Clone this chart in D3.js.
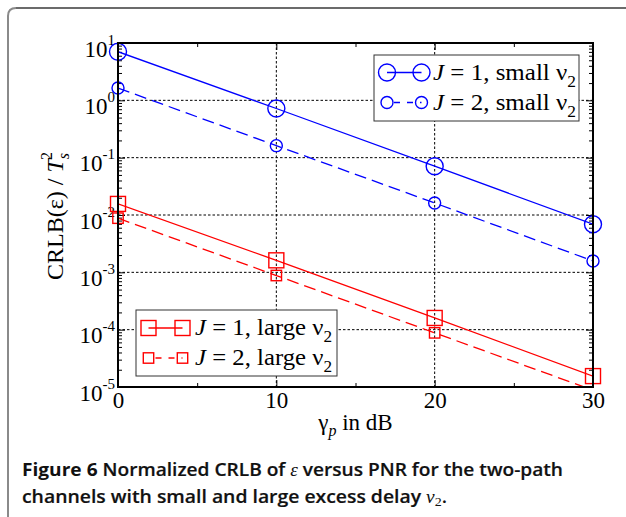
<!DOCTYPE html>
<html><head><meta charset="utf-8">
<script src="https://cdn.jsdelivr.net/npm/d3@7"></script>
<style>body{margin:0;background:#fff}svg{display:block}</style>
</head><body><svg id="c" width="626" height="517"></svg>
<script>
// ---- data ----
const xValues = [0, 10, 20, 30];
const blueJ1 = [7.05, 0.72, 0.071, 0.0069];
const blueJ2 = [1.64, 0.162, 0.0162, 0.00158];
const redJ1 = [0.0156, 0.00162, 0.000160, 0.0000155];
const redJ2 = [0.0088, 0.00088, 0.000088, 0.0000088];
const xTicksMajor = [0, 10, 20, 30];
const xTicksMinor = [5, 15, 25];
const yExponents = [1, 0, -1, -2, -3, -4, -5];
const legendJ = ["1", "2"];
const legendSize = ["small", "large"];

// ---- layout ----
const svg = d3.select("#c");
const L = 118, R = 593, T = 43, B = 387;
const x = d3.scaleLinear().domain([0, 30]).range([L, R]);
const y = d3.scaleLog().domain([1e-5, 10]).range([B, T]);
const serif = "'Liberation Serif','Times New Roman',serif";

// frame
svg.append("path").attr("d", `M8,520 L8,16 Q8,8 16,8`).attr("fill", "none").attr("stroke", "#8a8a8a").attr("stroke-width", 2);
svg.append("path").attr("d", `M16,8 L630,8`).attr("fill", "none").attr("stroke", "#3a3a3a").attr("stroke-width", 1.5);

// grid
const g = svg.append("g");
g.selectAll(".gx").data([10, 20]).join("line")
  .attr("x1", d => x(d)).attr("x2", d => x(d)).attr("y1", T).attr("y2", B)
  .attr("stroke", "#000").attr("stroke-width", 1).attr("stroke-dasharray", "2.5,2");
g.selectAll(".gy").data([1, 0.1, 0.01, 0.001, 0.0001]).join("line")
  .attr("y1", d => y(d)).attr("y2", d => y(d)).attr("x1", L).attr("x2", R)
  .attr("stroke", "#000").attr("stroke-width", 1).attr("stroke-dasharray", "2.5,2");

// minor y ticks
const yMinor = [];
for (let d = -5; d <= 0; d++) for (let k = 2; k <= 9; k++) yMinor.push(k * Math.pow(10, d));
const yMajor = yExponents.map(e => Math.pow(10, e));

function styleAxis(sel) {
  sel.select(".domain").remove();
  sel.selectAll("line").attr("stroke", "#000").attr("stroke-width", 1);
}
svg.append("g").attr("transform", `translate(${L},0)`).call(d3.axisLeft(y).tickValues(yMinor).tickSize(-4).tickFormat("")).call(styleAxis);
svg.append("g").attr("transform", `translate(${R},0)`).call(d3.axisRight(y).tickValues(yMinor).tickSize(-4).tickFormat("")).call(styleAxis);
svg.append("g").attr("transform", `translate(${R},0)`).call(d3.axisRight(y).tickValues(yMajor).tickSize(-7).tickFormat("")).call(styleAxis);
const yl = svg.append("g").attr("transform", `translate(${L},0)`)
  .call(d3.axisLeft(y).tickValues(yMajor).tickSize(-7).tickPadding(3)).call(styleAxis);
yl.selectAll("text").each(function(d) {
  const t = d3.select(this);
  const e = Math.round(Math.log10(d));
  t.text(null).attr("dy", null).attr("y", 13).attr("font-family", serif).attr("font-size", 23).attr("fill", "#000");
  t.append("tspan").text("10");
  t.append("tspan").attr("dy", -12).attr("font-size", 15).text(String(e));
});

svg.append("g").attr("transform", `translate(0,${B})`).call(d3.axisBottom(x).tickValues(xTicksMinor).tickSize(-4).tickFormat("")).call(styleAxis);
svg.append("g").attr("transform", `translate(0,${T})`).call(d3.axisTop(x).tickValues(xTicksMinor).tickSize(-4).tickFormat("")).call(styleAxis);
svg.append("g").attr("transform", `translate(0,${T})`).call(d3.axisTop(x).tickValues(xTicksMajor).tickSize(-7).tickFormat("")).call(styleAxis);
const xl = svg.append("g").attr("transform", `translate(0,${B})`)
  .call(d3.axisBottom(x).tickValues(xTicksMajor).tickSize(-7).tickFormat(d3.format("d"))).call(styleAxis);
xl.selectAll("text").attr("dy", null).attr("y", 21).attr("font-family", serif).attr("font-size", 23).attr("fill", "#000");

// clip
svg.append("clipPath").attr("id", "clip").append("rect").attr("x", L).attr("y", T).attr("width", R - L).attr("height", B - T);

const series = [
  {vals: blueJ1, color: "#0000ff", dash: null, marker: "circle", size: 8.5},
  {vals: blueJ2, color: "#0000ff", dash: "12,6", marker: "circle", size: 6},
  {vals: redJ1, color: "#ff0000", dash: null, marker: "square", size: 7.5},
  {vals: redJ2, color: "#ff0000", dash: "12,6", marker: "square", size: 5.2}
];
const line = d3.line().x(d => x(d[0])).y(d => y(d[1]));
function drawMarker(sel, s, cx, cy) {
  if (s.marker === "circle") {
    sel.append("circle").attr("cx", cx).attr("cy", cy).attr("r", s.size)
      .attr("fill", "none").attr("stroke", s.color).attr("stroke-width", 1.4);
  } else {
    sel.append("rect").attr("x", cx - s.size).attr("y", cy - s.size).attr("width", 2 * s.size).attr("height", 2 * s.size)
      .attr("fill", "none").attr("stroke", s.color).attr("stroke-width", 1.4);
  }
}
series.forEach(s => {
  const pts = xValues.map((v, i) => [v, s.vals[i]]);
  svg.append("path").datum(pts).attr("d", line).attr("clip-path", "url(#clip)")
    .attr("fill", "none").attr("stroke", s.color).attr("stroke-width", 1.3)
    .attr("stroke-dasharray", s.dash);
  const mg = svg.append("g");
  pts.filter(p => p[1] >= 1e-5 && p[1] <= 10).forEach(p => drawMarker(mg, s, x(p[0]), y(p[1])));
});

// axes box
svg.append("rect").attr("x", L).attr("y", T).attr("width", R - L).attr("height", B - T)
  .attr("fill", "none").attr("stroke", "#000").attr("stroke-width", 2);

// legends
function legend(bx, by, bw, bh, items) {
  const lg = svg.append("g");
  lg.append("rect").attr("x", bx).attr("y", by).attr("width", bw).attr("height", bh)
    .attr("fill", "#fff").attr("stroke", "#333").attr("stroke-width", 1);
  items.forEach(it => {
    const s = it.s;
    lg.append("line").attr("x1", it.x1).attr("x2", it.x2).attr("y1", it.y).attr("y2", it.y)
      .attr("stroke", s.color).attr("stroke-width", 1.3).attr("stroke-dasharray", s.dash ? "6,7" : null)
      .attr("stroke-dashoffset", s.dash ? -7 : null);
    drawMarker(lg, s, it.x1, it.y);
    drawMarker(lg, s, it.x2, it.y);
    const t = lg.append("text").attr("x", it.tx).attr("y", it.y + 7)
      .attr("font-family", serif).attr("font-size", 23).attr("fill", "#000")
      .attr("textLength", it.tl).attr("lengthAdjust", "spacingAndGlyphs");
    t.append("tspan").attr("font-style", "italic").text("J");
    t.append("tspan").text(` = ${it.j}, ${it.size} ν`);
    t.append("tspan").attr("dy", 7).attr("font-size", 16).text("2");
  });
}
legend(374, 55, 205, 66, [
  {s: series[0], x1: 387, x2: 421.5, y: 72.5, tx: 433, tl: 143, j: legendJ[0], size: legendSize[0]},
  {s: series[1], x1: 387, x2: 421.5, y: 102.5, tx: 433, tl: 143, j: legendJ[1], size: legendSize[0]}
]);
legend(136, 310, 201, 66, [
  {s: series[2], x1: 148.5, x2: 182.5, y: 328, tx: 195, tl: 137, j: legendJ[0], size: legendSize[1]},
  {s: series[3], x1: 148.5, x2: 182.5, y: 358, tx: 195, tl: 137, j: legendJ[1], size: legendSize[1]}
]);

// axis labels
const xt = svg.append("text").attr("x", (L + R) / 2).attr("y", 430).attr("text-anchor", "middle")
  .attr("font-family", serif).attr("font-size", 23).attr("fill", "#000");
xt.append("tspan").text("γ");
xt.append("tspan").attr("dy", 6).attr("font-size", 16).attr("font-style", "italic").text("p");
xt.append("tspan").attr("dy", -6).text(" in dB");

const ytx = svg.append("text").attr("transform", "translate(63,216) rotate(-90)").attr("text-anchor", "middle")
  .attr("font-family", serif).attr("font-size", 24).attr("fill", "#000");
ytx.append("tspan").text("CRLB(ε) / ");
ytx.append("tspan").attr("font-style", "italic").text("T");
ytx.append("tspan").attr("dy", 6).attr("font-size", 16).attr("font-style", "italic").text("s");
ytx.append("tspan").attr("dy", -17).attr("dx", -7).attr("font-size", 16).text("2");

// caption
const sans = "'Open Sans','Noto Sans',sans-serif";
const c1 = svg.append("text").attr("x", 22).attr("y", 476).attr("font-family", sans).attr("font-size", 18).attr("fill", "#111")
  .attr("textLength", 541).attr("lengthAdjust", "spacingAndGlyphs");
c1.append("tspan").attr("font-weight", 700).text("Figure 6");
c1.append("tspan").attr("font-weight", 600).attr("stroke", "#111").attr("stroke-width", 0.2).text(" Normalized CRLB of ");
c1.append("tspan").attr("font-family", serif).attr("font-style", "italic").text("ε");
c1.append("tspan").attr("font-weight", 600).attr("stroke", "#111").attr("stroke-width", 0.2).text(" versus PNR for the two-path");
const c2 = svg.append("text").attr("x", 22).attr("y", 503).attr("font-family", sans).attr("font-size", 18).attr("fill", "#111")
  .attr("textLength", 425).attr("lengthAdjust", "spacingAndGlyphs");
c2.append("tspan").attr("font-weight", 600).attr("stroke", "#111").attr("stroke-width", 0.2).text("channels with small and large excess delay ");
c2.append("tspan").attr("font-family", serif).attr("font-style", "italic").text("ν");
c2.append("tspan").attr("font-family", serif).attr("dy", 3).attr("font-size", 13).text("2");
c2.append("tspan").attr("dy", -3).attr("font-weight", 600).text(".");
</script></body></html>
